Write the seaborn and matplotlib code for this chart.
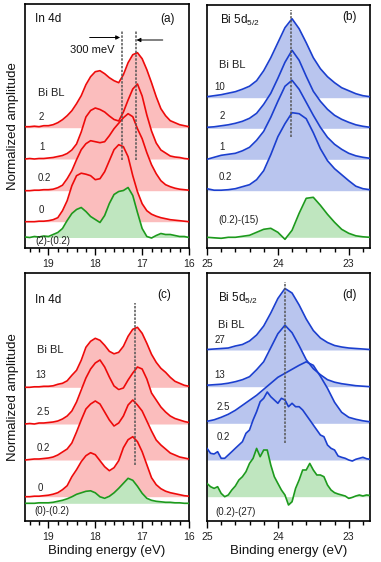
import numpy as np
import matplotlib
matplotlib.use("Agg")
import matplotlib.pyplot as plt
from matplotlib.ticker import MultipleLocator
import seaborn as sns

# ---------------- data ----------------
# binding energies (eV)
E_in = np.round(np.linspace(19.5, 16.0, 36), 2)
E_bi = np.round(np.linspace(25.0, 22.7, 24), 2)
E_bi_fine = np.round(np.linspace(25.0, 22.7, 47), 3)

# Panel (a): In 4d, Bi BL = 2, 1, 0.2, 0 and difference (2)-(0.2)
a_labels = ["2", "1", "0.2", "0", "(2)-(0.2)"]
a_2 = [1, 1, 1.5, 1, 2, 2, 3, 5, 8, 12, 17, 24, 32, 43, 51, 56, 57, 54, 50, 47,
       45, 53, 65, 73, 75, 69, 58, 45, 31, 19, 12, 7, 5, 3, 2, 1]
a_1 = [0, 0.5, 0, 0.5, 0.5, 1, 1.5, 2.5, 3.5, 5.5, 9, 15, 27, 42, 48.5, 51, 49.5,
       47, 43, 39.5, 38, 47, 59, 70, 75, 63, 44, 28, 16, 9, 6, 3, 2, 1.5, 0.5, 0]
a_02 = [0, 0, 0.5, 0.5, 1, 1, 1.5, 3, 5.5, 12, 20, 31, 41, 47, 50, 49, 48, 49, 55,
        62, 67.5, 73, 77, 74, 62, 52, 38, 26, 17, 10, 6, 4, 2.5, 1.5, 1, 0.5]
a_0 = [0, 0, 0, 0.5, 0.5, 1, 2, 4, 11, 21, 36, 46, 48.5, 47.5, 46, 42, 43, 50, 61,
       72, 77, 75, 65, 46, 30, 18, 11, 7.5, 5.5, 4, 3, 2, 1.5, 1, 0.5, 0]
a_diff = [0.5, 0, 1, 0.5, 1.5, 1, 3, 5, 9, 17, 24, 28, 30, 26, 21, 18, 15, 22, 34,
          43, 46, 47, 50, 42, 25, 9, 1, -0.5, 2, 4, 3, 3, 2, 1, 1, 0]

# Panel (b): Bi 5d5/2, Bi BL = 10, 2, 1, 0.2 and difference (0.2)-(15)
b_labels = ["10", "2", "1", "0.2", "(0.2)-(15)"]
b_10 = [1, 2, 3, 4.5, 6, 8.5, 11.5, 17, 27, 40, 55, 70, 79, 69, 55, 40, 29, 21,
        15, 10, 7, 4, 2, 1]
b_2 = [1, 1.5, 2.5, 3.5, 5, 7, 10, 15, 24, 35, 50, 66, 78, 68, 52, 37, 27, 19,
       13, 9, 6, 3.5, 2, 1]
b_1 = [0, 2, 4, 5, 6, 8.5, 12, 19, 28, 42, 58, 73, 79, 70, 57, 44, 32, 22, 15,
       10, 6, 3.5, 2, 1]
b_02 = [2, 0.5, 0.5, 1, 2, 4, 6, 11, 20, 36, 54, 67, 78, 77, 72, 58, 42, 30, 22,
        16, 10, 4.5, 2, 1]
b_diff = [0, -0.5, -1, 0, 0, 1, 2, 5, 8, 9, 5, -2, 7, 24, 39, 40, 32, 23, 15, 8,
          4, 1.5, 0.5, 0]

# Panel (c): In 4d, Bi BL = 13, 2.5, 0.2, 0 and difference (0)-(0.2)
c_labels = ["13", "2.5", "0.2", "0", "(0)-(0.2)"]
c_13 = [0, 0, 0.5, 0.5, 1, 1, 1.5, 3, 4, 6.5, 12, 17, 27, 40, 46, 49, 47, 42, 36,
        33.5, 35, 41, 51, 58, 60, 54, 44, 33, 25, 19, 15, 10, 6, 4, 2, 1]
c_25 = [0, 0.5, 0, 1, 1, 1.5, 2, 3, 5, 8, 13, 22, 34, 46, 55, 61, 64, 57, 47, 38,
        34.5, 36, 44, 51, 57, 55, 45, 31, 24, 17, 12, 8, 5.5, 4, 2.5, 1.5]
c_02 = [0, 0.5, 1, 1, 1.5, 2, 3, 5, 8, 11, 17, 28, 40, 51, 56, 59, 56, 48, 40, 34,
        37, 44, 55, 60, 55, 49, 39, 29, 20, 15, 11, 7, 5, 3, 2, 1]
c_0 = [0, 0, 0.5, 0.5, 1, 1.5, 2.5, 4, 7, 11, 20, 27, 35, 41, 44, 42, 36, 30, 26,
       29, 36, 49, 57, 60, 55, 45, 32, 19, 12, 8, 5.5, 4, 3, 2, 1, 0.5]
c_diff = [0, 0, 0, 0.5, 0.5, 0.5, 1, 2, 3, 4.5, 6.5, 9, 10.5, 12, 12.5, 10.5, 6.5,
          5, 7, 10.5, 15, 20, 25, 23, 17, 10, 5, 3, 2, 1.5, 1, 1, 0.5, 0.5, 0, 0]

# Panel (d): Bi 5d5/2, Bi BL = 27, 13, 2.5 (0.1 eV steps), 0.2 and (0.2)-(27) (0.05 eV steps)
d_labels = ["27", "13", "2.5", "0.2", "(0.2)-(27)"]
d_27 = [0.5, 1, 1.5, 2, 4, 5.5, 9, 15, 24, 37, 51.5, 61.5, 57, 45, 31, 19.5, 12,
        7.5, 4.5, 3, 2, 1.5, 1, 0.5]
d_13 = [1.5, 2, 2.5, 3.5, 5, 7, 10, 17, 25, 39, 53, 61.5, 54, 41, 27, 18, 12, 7,
        4.5, 3, 2, 1, 0.5, 0]
d_25 = [2, 3.5, 6, 9, 13, 18, 23, 28, 34, 40, 46, 50, 54, 58, 61.5, 58, 47, 35,
        21, 11, 6, 4, 2.5, 1.5]
d_02 = [11.7, 6.7, 6, 8.3, 1.7, 1.7, 5, 8.3, 11.7, 15, 18.3, 26.7, 30, 40, 48.3,
        58.3, 61.7, 68, 63.3, 60, 56.7, 61.7, 60, 53.3, 56.7, 53.3, 53.3, 50, 45,
        40, 35, 30, 25, 23.3, 15, 11.7, 10, 4, 2.7, 1.7, 0, -1, 0.7, 1.7, 2.7, 1.3,
        0.7]
d_diff = [13.3, 10, 8.3, 10, 3.3, 0, 1.7, 6.7, 10.7, 16.7, 20, 25, 33.3, 38.3,
          48.3, 40, 46.7, 46.7, 31.7, 20, 13.3, 6.7, 1.7, -8.3, -5, 8.3, 16.7, 26.7,
          26.7, 33.3, 26.7, 21.7, 21.7, 20, 11.7, 6.7, 4, 2.7, 1.7, 0.7, -1.7, -0.7,
          0.7, 1.7, 0.7, 1.7, 1.3]

# ---------------- style ----------------
sns.set_theme(style="ticks")
plt.rcParams["font.family"] = ["Liberation Sans", "DejaVu Sans"]
plt.rcParams["mathtext.fontset"] = "custom"
plt.rcParams["mathtext.rm"] = "Liberation Sans"
plt.rcParams["mathtext.it"] = "Liberation Sans:italic"

RED, RED_F = "#ee0a0a", "#fbbdbd"
BLUE, BLUE_F = "#1b3fcf", "#b9c5ee"
GREEN, GREEN_F = "#1d9a1d", "#bfe6bf"
DASH = "#555555"

W, H = 381, 562
fig = plt.figure(figsize=(W / 100, H / 100), dpi=100)


def box(l, t, r, b):
    return [l / W, (H - b) / H, (r - l) / W, (b - t) / H]


ax_a = fig.add_axes(box(25, 4, 189, 248))
ax_b = fig.add_axes(box(207, 5, 370, 248))
ax_c = fig.add_axes(box(25, 273, 189, 521))
ax_d = fig.add_axes(box(207, 273, 370, 521))


def draw(ax, Es, curves, offsets, line_c, fill_c):
    ys = []
    for E, amp, off, fc in zip(Es, curves, offsets, fill_c):
        y = off + np.asarray(amp, dtype=float)
        ys.append((E, y))
        ax.fill_between(E, off, y, color=fc, lw=0, zorder=1)
    for (E, y), lc in zip(ys, line_c):
        sns.lineplot(x=E, y=y, ax=ax, color=lc, lw=1.2, zorder=3)


def style(ax, xlim, ylim, majors):
    ax.set_xlim(*xlim)
    ax.set_ylim(*ylim)
    ax.set_xticks(majors)
    ax.set_xticklabels([str(m) for m in majors])
    ax.xaxis.set_minor_locator(MultipleLocator(0.2))
    ax.set_yticks([])
    ax.tick_params(axis="x", which="major", direction="out", length=5, width=1,
                   labelsize=7.5, pad=3, color="black", labelcolor="#222222")
    ax.tick_params(axis="x", which="minor", direction="out", length=3, width=1,
                   color="black")
    for s in ax.spines.values():
        s.set_color("black")
        s.set_linewidth(1.2)
    ax.set_facecolor("white")


lab_kw = dict(fontsize=7, color="#222222", ha="left", va="center")
big_kw = dict(fontsize=8.5, color="#111111", ha="left", va="center")
dash_kw = dict(color=DASH, lw=1.1, ls=(0, (1.6, 0.9)), zorder=4)

reds = [RED] * 4 + [GREEN]
redf = [RED_F] * 4 + [GREEN_F]
blues = [BLUE] * 4 + [GREEN]
bluef = [BLUE_F] * 4 + [GREEN_F]

# ---- (a)
draw(ax_a, [E_in] * 5, [a_2, a_1, a_02, a_0, a_diff],
     [120.3, 89, 57.3, 26.3, 10.5], reds, redf)
style(ax_a, (19.5, 16.0), (0, 244), [19, 18, 17, 16])
for xv in (17.44, 17.14):
    ax_a.plot([xv, xv], [88, 217], **dash_kw)
ax_a.annotate("", xy=(17.47, 210.5), xytext=(18.12, 210.5),
              arrowprops=dict(arrowstyle="-|>", color="black", lw=0.7,
                              mutation_scale=6, shrinkA=0, shrinkB=0))
ax_a.annotate("", xy=(17.12, 208), xytext=(16.56, 208),
              arrowprops=dict(arrowstyle="-|>", color="black", lw=0.7,
                              mutation_scale=6, shrinkA=0, shrinkB=0))
ax_a.text(18.06, 198, "300 meV", fontsize=8, ha="center", va="center", color="#111111")
ax_a.text(19.29, 229, "In 4d", **big_kw)
ax_a.text(16.45, 229, "(a)", fontsize=8.5, ha="center", va="center", color="#111111")
ax_a.text(19.22, 155, "Bi BL", fontsize=8, ha="left", va="center", color="#222222")
for txt, xv, yv in zip(a_labels, [19.2, 19.2, 19.23, 19.2, 19.27],
                       [131, 101, 70, 38, 7]):
    ax_a.text(xv, yv, txt, **lab_kw)
ax_a.set_ylabel("Normalized amplitude", fontsize=9.5, color="#111111")
ax_a.yaxis.set_label_coords(-0.035, 0.5)

# ---- (b)
draw(ax_b, [E_bi] * 5, [b_10, b_2, b_1, b_02, b_diff],
     [150.3, 119.7, 88.7, 57.3, 10.7], blues, bluef)
style(ax_b, (25.0, 22.7), (0, 243), [25, 24, 23])
ax_b.plot([23.81, 23.81], [111, 238], **dash_kw)
ax_b.text(24.82, 228, r"Bi 5d$_{5/2}$", **big_kw)
ax_b.text(22.99, 231, "(b)", fontsize=8.5, ha="center", va="center", color="#111111")
ax_b.text(24.83, 183, "Bi BL", fontsize=8, ha="left", va="center", color="#222222")
for txt, xv, yv in zip(b_labels, [24.9, 24.82, 24.82, 24.84, 24.84],
                       [160.7, 132, 101.3, 70.7, 28]):
    ax_b.text(xv, yv, txt, **lab_kw)

# ---- (c)
draw(ax_c, [E_in] * 5, [c_13, c_25, c_02, c_0, c_diff],
     [133.7, 97, 61, 24.3, 17.7], reds, redf)
style(ax_c, (19.5, 16.0), (0, 248), [19, 18, 17, 16])
ax_c.plot([17.15, 17.15], [56, 218], **dash_kw)
ax_c.text(19.29, 221, "In 4d", **big_kw)
ax_c.text(16.52, 226, "(c)", fontsize=8.5, ha="center", va="center", color="#111111")
ax_c.text(19.25, 171, "Bi BL", fontsize=8, ha="left", va="center", color="#222222")
for txt, xv, yv in zip(c_labels, [19.29, 19.25, 19.25, 19.22, 19.29],
                       [146, 109.3, 72.7, 32.7, 10.3]):
    ax_c.text(xv, yv, txt, **lab_kw)
ax_c.set_ylabel("Normalized amplitude", fontsize=9.5, color="#111111")
ax_c.yaxis.set_label_coords(-0.035, 0.5)
ax_c.set_xlabel("Binding energy (eV)", fontsize=9.5, color="#111111", labelpad=2)

# ---- (d)
draw(ax_d, [E_bi, E_bi, E_bi, E_bi_fine, E_bi_fine],
     [d_27, d_13, d_25, d_02, d_diff],
     [171, 134.3, 97.7, 61, 24.3], blues, bluef)
style(ax_d, (25.0, 22.7), (0, 248), [25, 24, 23])
ax_d.plot([23.9, 23.9], [77.7, 239.3], **dash_kw)
ax_d.text(24.84, 222.7, r"Bi 5d$_{5/2}$", **big_kw)
ax_d.text(22.99, 226, "(d)", fontsize=8.5, ha="center", va="center", color="#111111")
ax_d.text(24.84, 196, "Bi BL", fontsize=8, ha="left", va="center", color="#222222")
for txt, xv, yv in zip(d_labels, [24.9, 24.9, 24.87, 24.87, 24.88],
                       [181, 146, 114.3, 84.3, 8.7]):
    ax_d.text(xv, yv, txt, **lab_kw)
ax_d.set_xlabel("Binding energy (eV)", fontsize=9.5, color="#111111", labelpad=2)

for ax in (ax_b, ax_d):
    ax.set_ylabel("")
for ax in (ax_a, ax_b):
    ax.set_xlabel("")

fig.savefig("out.png", dpi=100, facecolor="white")
